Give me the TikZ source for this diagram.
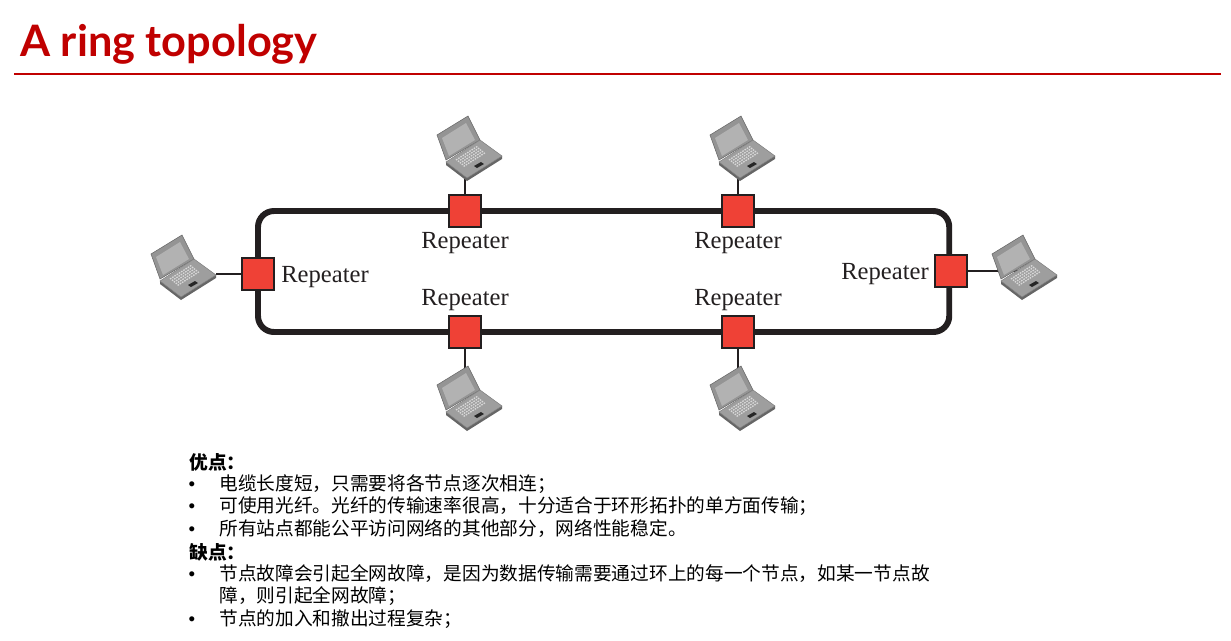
\documentclass[tikz,border=0pt]{standalone}
\usepackage{fontspec}
\setmainfont{Noto Sans CJK SC}
\newfontfamily\titlefont{Lato}
\newfontfamily\labelfont{Liberation Serif}
\newfontfamily\bulletfont{Liberation Sans}
\usepackage{tikz}
\usetikzlibrary{positioning, backgrounds}
\definecolor{titlered}{HTML}{C00000}
\definecolor{ringblack}{HTML}{231F20}
\definecolor{repred}{HTML}{EF4136}
\tikzset{
    ringline/.style={line width=3.4pt, draw=ringblack, rounded corners=0.32cm},
    repeater/.style={rectangle, draw=ringblack, fill=repred, line width=1.1pt, minimum size=0.64cm, inner sep=0pt},
    replabel/.style={font=\labelfont\fontsize{14}{16}\selectfont, text=ringblack, inner sep=0pt},
    wire/.style={line width=0.6pt, draw=ringblack},
    bodytext/.style={anchor=west, inner sep=0pt, font=\fontsize{10.64}{12}\selectfont},
    headtext/.style={bodytext, font=\fontsize{10.64}{12}\selectfont\bfseries},
    bulletdot/.style={anchor=center, inner sep=0pt, font=\bulletfont\fontsize{10.64}{12}\selectfont},
    laptop/.pic={
        % base edge, lid, screen, base, keys
        \fill[black!60] (-21,-16) -- (-21,-13) -- (0,3) -- (35,-19) -- (35,-22) -- cycle;
        \filldraw[draw=black!60, fill=black!42, line width=0.3pt] (-21,-18) -- (-30,-43) -- (1,-62) -- (13,-38) -- cycle;
        \fill[black!30] (-18,-22) -- (-25,-40) -- (-1,-55) -- (8,-38) -- cycle;
        \filldraw[draw=black!50, fill=black!38, line width=0.3pt] (-21,-16) -- (13,-38) -- (35,-22) -- (0,0) -- cycle;
        \foreach \t in {0,1,2,3,4}
            \draw[white!85!black, line width=0.75pt, dash pattern=on 0.9pt off 0.6pt]
                (-11+1.9*\t,-18+1.6*\t) -- (11+1.9*\t,-32+1.6*\t);
        \fill[black!85] (7,-12) -- (14,-16) -- (17,-14) -- (10,-10) -- cycle;
        \coordinate (-front) at (0,0);
        \coordinate (-side) at (35,-22);
        \coordinate (-back) at (0,-58);
    }
}

\begin{document}
\begin{tikzpicture}[x=0.02cm, y=-0.02cm]
    \useasboundingbox (0,0) rectangle (1231,640);

    % Heading
    \node (title) [anchor=west, inner sep=0pt, text=titlered, font=\titlefont\fontsize{24.66}{28}\selectfont\bfseries] at (20,44) {A ring topology};
    \coordinate (ruleL) at (14,74);
    \coordinate (ruleR) at (1221,74);
    \draw [titlered, line width=1.1pt] (ruleL) -- (ruleR);

    % Repeaters
    \node (repTA) [repeater] at (465,211) {};
    \node (repTB) [repeater] at (738,211) {};
    \node (repBA) [repeater] at (465,332) {};
    \node (repBB) [repeater] at (738,332) {};
    \node (repL) [repeater] at (258,274) {};
    \node (repR) [repeater] at (951,271) {};

    % Laptops
    \pic (lapTA) at (467,178) {laptop};
    \pic (lapTB) at (740,178) {laptop};
    \pic (lapBA) at (467,428) {laptop};
    \pic (lapBB) at (740,428) {laptop};
    \pic (lapL) at (181,297) {laptop};
    \pic (lapR) at (1022,297) {laptop};

    % Ring and wires
    \begin{pgfonlayer}{background}
        \draw [ringline] (repTA.center) -- (repTB.center) -| ([xshift=-1]repR.center) |- (repBB.center) -- (repBA.center) -| (repL.center) |- (repTA.center);
        \draw [wire] (lapTA-front -| repTA) -- (repTA);
        \draw [wire] (lapTB-front -| repTB) -- (repTB);
        \draw [wire] (lapBA-back -| repBA) -- (repBA);
        \draw [wire] (lapBB-back -| repBB) -- (repBB);
        \draw [wire] (lapL-side |- repL) -- (repL);
        \draw [wire] (lapR-front |- repR) -- (repR);
    \end{pgfonlayer}

    % Repeater labels
    \node [replabel, below=0.09cm of repTA] {Repeater};
    \node [replabel, below=0.09cm of repTB] {Repeater};
    \node [replabel, above=0.08cm of repBA] {Repeater};
    \node [replabel, above=0.08cm of repBB] {Repeater};
    \node [replabel, right=0.12cm of repL, yshift=-0.07cm] {Repeater};
    \node [replabel, left=0.1cm of repR, yshift=-0.06cm] {Repeater};

    % Pros and cons
    \node (headA) [headtext] at (189,462) {优点：};
    \node (lineA) [bodytext] at (219,484) {电缆长度短，只需要将各节点逐次相连；};
    \node (lineB) [bodytext] at (219,506) {可使用光纤。光纤的传输速率很高，十分适合于环形拓扑的单方面传输；};
    \node (lineC) [bodytext] at (219,529) {所有站点都能公平访问网络的其他部分，网络性能稳定。};
    \node (headB) [headtext] at (189,552) {缺点：};
    \node (lineD) [bodytext] at (219,574) {节点故障会引起全网故障，是因为数据传输需要通过环上的每一个节点，如某一节点故};
    \node (lineE) [bodytext] at (219,596) {障，则引起全网故障；};
    \node (lineF) [bodytext] at (219,619) {节点的加入和撤出过程复杂；};
    \node (dotA) [bulletdot] at (192,486) {•};
    \node (dotB) [bulletdot] at (192,508) {•};
    \node (dotC) [bulletdot] at (192,531) {•};
    \node (dotD) [bulletdot] at (192,576) {•};
    \node (dotF) [bulletdot] at (192,621) {•};
\end{tikzpicture}
\end{document}
